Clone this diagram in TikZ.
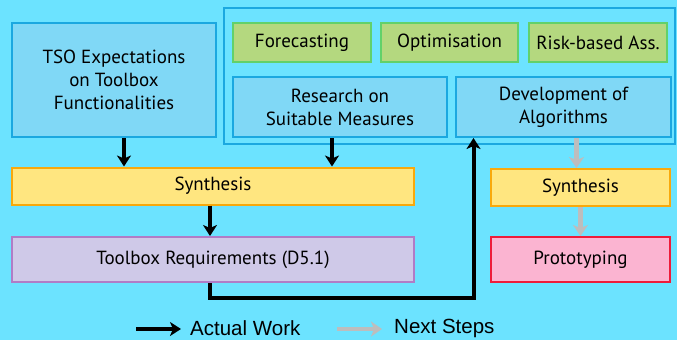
\documentclass[tikz,border=0pt]{standalone}
\usepackage{fontspec}
\setmainfont{PT Sans}
\newfontfamily\legendfont{Liberation Sans}
\usetikzlibrary{arrows.meta,calc}

\definecolor{bgcyan}{HTML}{6CE3FF}
\definecolor{boxblue}{HTML}{80D8F6}
\definecolor{lineblue}{HTML}{1BA8E0}
\definecolor{boxgreen}{HTML}{B4D87F}
\definecolor{linegreen}{HTML}{62D16A}
\definecolor{boxyellow}{HTML}{FFE680}
\definecolor{lineorange}{HTML}{F9A90B}
\definecolor{boxlilac}{HTML}{CFC9E8}
\definecolor{linelilac}{HTML}{B07CC6}
\definecolor{boxpink}{HTML}{FBB4D1}
\definecolor{linered}{HTML}{EE1C3A}
\definecolor{nextgray}{HTML}{BDBDBD}

\tikzset{
  box/.style={draw, line width=2pt, align=center, inner sep=0pt,
    font=\fontsize{19}{23}\selectfont},
  bluebox/.style={box, draw=lineblue, fill=boxblue},
  greenbox/.style={box, draw=linegreen, fill=boxgreen, minimum width=138pt, minimum height=39pt},
  synbox/.style={box, draw=lineorange, fill=boxyellow, minimum height=37pt},
  work/.style={line width=4pt, -{Stealth[length=11pt,width=14pt,inset=3pt]}},
  next/.style={line width=4.5pt, draw=nextgray, -{Stealth[length=11pt,width=15pt,inset=3pt]}},
  legend/.style={anchor=west, inner sep=0pt, font=\legendfont\fontsize{20.5}{24}\selectfont},
}

\begin{document}
\begin{tikzpicture}[x=1pt, y=-1pt]
		%%%%% START %%%%%
		
		\useasboundingbox (0,0) rectangle (677,340);
		\fill[bgcyan] (0,0) rectangle (677,340);
		
		% left column
		\node[bluebox, minimum width=204pt, minimum height=114pt] (tso) at (114,80)
			{TSO Expectations\\on Toolbox\\Functionalities};
		
		% frame with methods
		\draw[lineblue, line width=2.5pt] (224,8) rectangle (675,144);
		\node[greenbox] (fc) at (302,42.5) {Forecasting};
		\node[greenbox, minimum width=137pt] (opt) at (449.5,42.5) {Optimisation};
		\node[greenbox] (risk) at (598,42.5) {Risk-based Ass.};
		\node[bluebox, minimum width=214pt, minimum height=60pt] (res) at (340,107)
			{Research on\\Suitable Measures};
		\node[bluebox, minimum width=215pt, minimum height=60pt] (dev) at (563.5,107)
			{Development of\\Algorithms};
		
		% synthesis and results
		\node[synbox, minimum width=402pt] (syn) at (213,186) {Synthesis};
		\node[box, draw=linelilac, fill=boxlilac, minimum width=402pt, minimum height=45pt] (req) at (213,259.5)
			{Toolbox Requirements (D5.1)};
		\node[synbox, minimum width=179pt] (synnext) at (580.5,187.5) {Synthesis};
		\node[box, draw=linered, fill=boxpink, minimum width=179pt, minimum height=45pt] (proto) at (580.5,259.5)
			{Prototyping};
		
		% actual work
		\draw[work] ([xshift=10pt]tso.south) -- ([xshift=10pt]tso.south |- syn.north);
		\draw[work] ([xshift=-8pt]res.south) -- ([xshift=-8pt]res.south |- syn.north);
		\draw[work] ([xshift=-3pt]syn.south) -- ([xshift=-3pt]req.north);
		\draw[work] ([xshift=-3pt]req.south) -- ++(0,15) -| ([xshift=-90pt]dev.south);
		
		% next steps
		\draw[next] ([xshift=-4pt]synnext.north |- dev.south) -- ([xshift=-4pt]synnext.north);
		\draw[next] (synnext.south) -- (proto.north);
		
		% legend
		\coordinate (wa) at (136,329);
		\coordinate (wb) at (181,329);
		\coordinate (na) at (337,329);
		\coordinate (nb) at (382,329);
		\draw[work] (wa) -- (wb);
		\node[legend] (worklbl) at (190,328) {Actual Work};
		\draw[next] (na) -- (nb);
		\node[legend] (nextlbl) at (394,328) {Next Steps};
		
		%%%%% END %%%%%
\end{tikzpicture}
\end{document}
